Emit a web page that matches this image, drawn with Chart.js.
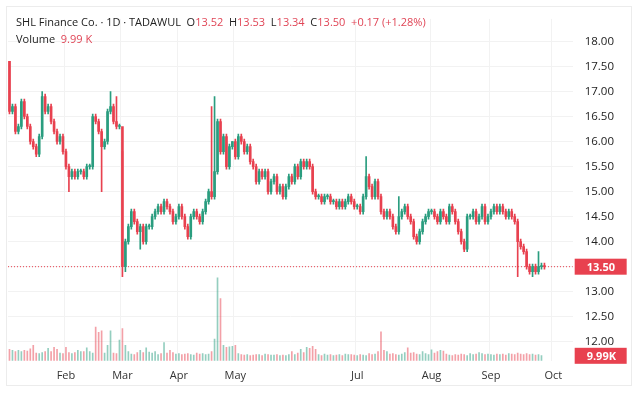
<!DOCTYPE html>
<html>
<head>
<meta charset="utf-8">
<script src="https://cdn.jsdelivr.net/npm/chart.js@4/dist/chart.umd.min.js"></script>
<style>
  body { margin: 0; background: #fff; font-family: "Open Sans", sans-serif; }
  #wrap { position: relative; width: 640px; height: 400px; }
  #frame { position: absolute; left: 6px; top: 6px; width: 626px; height: 380px; border: 1px solid #ececec; box-sizing: border-box; }
  #legend { position: absolute; left: 16px; top: 13px; font-size: 11px; color: #222; line-height: 17px; }
  #legend .r { color: #e04556; }
</style>
</head>
<body>
<div id="wrap">
  <div id="frame"></div>
  <canvas id="c" width="640" height="400"></canvas>
  <div id="legend">
    <div>SHL Finance Co. · 1D · TADAWUL&nbsp; O<span class="r">13.52</span>&nbsp; H<span class="r">13.53</span>&nbsp; L<span class="r">13.34</span>&nbsp; C<span class="r">13.50</span>&nbsp; <span class="r">+0.17 (+1.28%)</span></div>
    <div>Volume&nbsp; <span class="r">9.99 K</span></div>
  </div>
</div>
<script>
// daily closes, Jan..Sep
const closes = [
  16.6,16.7,16.2,16.3,16.8,16.5,16.3,16.0,15.9,15.75,16.1,16.9,16.6,16.7,16.4,16.2,16.0,16.1,15.8,
  15.5,15.3,15.4,15.3,15.4,15.4,15.3,15.5,15.5,16.5,16.4,16.2,15.9,16.0,16.6,16.7,16.4,16.3,16.3,
  13.5,14.0,14.3,14.6,14.4,14.2,14.3,14.0,14.3,14.3,14.5,14.6,14.7,14.6,14.8,14.7,14.6,14.4,14.5,
  14.7,14.5,14.3,14.1,14.5,14.6,14.5,14.4,14.6,14.8,15.0,14.9,15.4,16.4,15.8,16.1,15.5,15.9,16.0,
  15.7,16.1,16.0,15.8,15.9,15.6,15.5,15.2,15.4,15.3,15.4,15.0,15.2,15.3,15.0,15.1,14.9,15.1,15.3,15.2,
  15.5,15.3,15.6,15.5,15.6,15.5,15.0,14.9,14.9,14.8,14.9,14.9,14.8,14.8,14.7,14.8,14.7,14.8,14.9,14.8,14.7,
  14.7,14.6,14.9,15.3,15.1,14.9,15.2,14.9,14.6,14.5,14.6,14.5,14.3,14.2,14.5,14.6,14.7,14.5,14.4,14.1,14.0,14.2,14.4,14.5,14.6,
  14.6,14.5,14.4,14.6,14.5,14.4,14.7,14.6,14.4,14.2,14.0,13.85,14.5,14.5,14.6,14.4,14.5,14.7,14.4,14.5,
  14.6,14.7,14.6,14.7,14.6,14.5,14.6,14.5,14.4,14.0,13.9,13.8,13.5,13.4,13.5,13.4,13.5,13.52,13.5
];
const firstOpen = 17.6;
// notable wicks: index -> value
const highSpikes = { 0: 17.6, 11: 17.0, 34: 17.0, 36: 16.9, 38: 15.8, 69: 16.9, 68: 16.7, 75: 16.0, 120: 15.7, 131: 14.9, 178: 13.8 };
const lowSpikes = { 38: 13.3, 39: 13.4, 31: 15.0, 20: 15.0, 44: 13.85, 60: 14.05, 171: 13.3, 176: 13.3 };
const volumes = [
  2.2,2,1.8,2,1.8,2,1.9,2.3,3,1.5,1.4,1.6,1.8,2.4,1.8,2.6,2.2,1.5,1.4,
  2.6,1.6,1.4,1.6,2,1.8,1.8,2.5,1.8,1.5,6.5,5.5,5.8,1.5,3,5.8,1.5,1.4,4,
  6.2,3,1.8,1.3,1.2,1.6,2,1.6,2.5,1.7,1.5,1.8,1.2,1.4,3.5,1.5,2,1.6,1.3,
  1.4,1.2,1.3,1.4,1.2,1.1,1.5,1.3,1.4,1.2,1.3,1.8,4.2,16,12,3,2.6,2.7,2.8,
  3,1.4,1.2,1.1,1.2,1,1.1,1.2,1.2,1,1.3,1.2,1.1,1.1,1.2,1,1.1,1,1.2,
  1.8,1.2,1.5,2.2,1.6,2.6,2.4,2.8,2.2,1.2,1,1.3,1.1,1.2,1,1.1,1.2,1,1.3,1.2,1.2,
  1.1,1,1.2,1.1,1,1.4,1.2,1.3,1.8,5.6,2,1.8,1.3,1.4,1.2,1.1,1.3,1.6,2.5,1.5,1.6,1.3,1.2,1.8,1.4,
  1.2,2.1,1.5,1.8,2,1.9,1.3,1.1,1,1.2,1.1,1.3,1.2,1,1.4,1.2,1.3,1.6,1.4,1.2,
  1.3,1.2,1.1,1.3,1.2,1.3,1.1,1.4,1.3,1.2,1.5,1.3,1.2,1.4,1.2,1.3,1.1,1.2,1.0
];
const monthTicks = { 19: 'Feb', 38: 'Mar', 57: 'Apr', 76: 'May', 117: 'Jul', 142: 'Aug', 162: 'Sep', 183: 'Oct' };
const priceTicks = [12, 12.5, 13, 13.5, 14, 14.5, 15, 15.5, 16, 16.5, 17, 17.5, 18];
const lastPrice = 13.50;

const UP = '#2a9d7f', DOWN = '#e8414f';
const labels = [];
for (let i = 0; i < 190; i++) labels.push(i);
const opens = closes.map((c, i) => i === 0 ? firstOpen : closes[i - 1]);
const bodies = closes.map((c, i) => [opens[i], c === opens[i] ? c + 0.02 : c]);
const wicks = closes.map((c, i) => [
  lowSpikes[i] !== undefined ? lowSpikes[i] : Math.min(opens[i], c) - 0.05,
  highSpikes[i] !== undefined ? highSpikes[i] : Math.max(opens[i], c) + 0.05
]);
const colors = closes.map((c, i) => c >= opens[i] ? UP : DOWN);
const volColors = closes.map((c, i) => c >= opens[i] ? 'rgba(42,157,127,0.5)' : 'rgba(232,65,79,0.5)');

const overlay = {
  id: 'overlay',
  beforeDatasetsDraw(chart) {
    const { ctx, chartArea, scales } = chart;
    const y = scales.y.getPixelForValue(lastPrice);
    ctx.save();
    ctx.strokeStyle = DOWN;
    ctx.lineWidth = 1;
    ctx.setLineDash([1, 2]);
    ctx.beginPath();
    ctx.moveTo(chartArea.left, y);
    ctx.lineTo(chartArea.right, y);
    ctx.stroke();
    ctx.restore();
  },
  afterDraw(chart) {
    const { ctx, chartArea, scales } = chart;
    const x = chartArea.right + 2;
    const box = (yc, txt) => {
      ctx.fillStyle = '#e8414f';
      ctx.fillRect(x, yc - 8, 52, 16);
      ctx.fillStyle = '#fff';
      ctx.font = 'bold 11px "Open Sans"';
      ctx.textBaseline = 'middle';
      ctx.textAlign = 'left';
      ctx.fillText(txt, x + 12, yc + 1);
    };
    ctx.save();
    box(scales.y.getPixelForValue(lastPrice), '13.50');
    box(chartArea.bottom - 5, '9.99K');
    ctx.restore();
  }
};

new Chart(document.getElementById('c'), {
  type: 'bar',
  data: {
    labels: labels,
    datasets: [
      { data: wicks, backgroundColor: colors, barThickness: 1, yAxisID: 'y', order: 1 },
      { data: bodies, backgroundColor: colors, barThickness: 2, yAxisID: 'y', order: 0 },
      { data: volumes, backgroundColor: volColors, barThickness: 1, yAxisID: 'v', order: 2 }
    ]
  },
  options: {
    responsive: false,
    animation: false,
    layout: { padding: { left: 8, top: 8, right: 14, bottom: 10 } },
    plugins: { legend: { display: false }, tooltip: { enabled: false } },
    datasets: { bar: { grouped: false } },
    scales: {
      x: {
        min: 0, max: 189,
        grid: {
          color: (c) => monthTicks[c.tick && c.tick.value] ? '#f2f2f2' : 'rgba(0,0,0,0)',
          drawTicks: false
        },
        border: { display: false },
        ticks: {
          autoSkip: false, maxRotation: 0, padding: 8,
          color: '#333', font: { size: 11, family: 'Open Sans' },
          callback: (v) => monthTicks[v] || ''
        }
      },
      y: {
        position: 'right',
        min: 11.62, max: 18.45,
        afterBuildTicks: (axis) => { axis.ticks = priceTicks.map(v => ({ value: v })); },
        grid: { color: '#f2f2f2', drawTicks: false },
        border: { display: false },
        ticks: { padding: 12, color: '#222', font: { size: 11.5, family: 'Open Sans' }, callback: (v) => v.toFixed(2) }
      },
      v: { display: false, min: 0, max: 66 }
    }
  },
  plugins: [overlay]
});
</script>
</body>
</html>
